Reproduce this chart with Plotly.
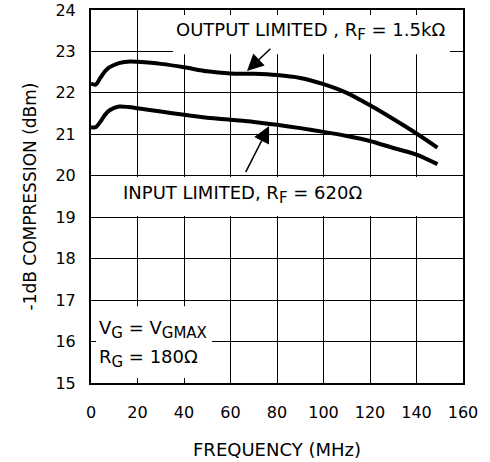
import plotly.graph_objects as go

# Frequency (MHz) and -1dB compression (dBm)
freq_out = [0, 2, 4, 6, 8, 12, 17, 20, 30, 40, 50, 60, 70, 80, 90, 100, 110, 120, 130, 140, 149]
comp_out = [22.22, 22.2, 22.36, 22.52, 22.62, 22.72, 22.76, 22.75, 22.70, 22.62, 22.52, 22.47, 22.46, 22.43, 22.36, 22.21, 22.0, 21.7, 21.37, 21.02, 20.68]

freq_in = [0, 2, 4, 6, 8, 12, 16, 20, 30, 40, 50, 60, 70, 80, 90, 100, 110, 120, 130, 140, 149]
comp_in = [21.17, 21.17, 21.3, 21.47, 21.58, 21.67, 21.66, 21.63, 21.55, 21.47, 21.4, 21.35, 21.3, 21.23, 21.15, 21.06, 20.96, 20.84, 20.67, 20.51, 20.28]

x_ticks = [0, 20, 40, 60, 80, 100, 120, 140, 160]
y_ticks = [15, 16, 17, 18, 19, 20, 21, 22, 23, 24]

FONT = "DejaVu Sans, Arial, sans-serif"


def sub(s):
    return "<sub><span style='font-size:15px'>" + s + "</span></sub>"


fig = go.Figure()
fig.add_trace(go.Scatter(x=freq_out, y=comp_out, mode="lines",
                         line=dict(color="black", width=4, shape="spline", smoothing=0.7),
                         showlegend=False, hoverinfo="skip"))
fig.add_trace(go.Scatter(x=freq_in, y=comp_in, mode="lines",
                         line=dict(color="black", width=4, shape="spline", smoothing=0.7),
                         showlegend=False, hoverinfo="skip"))

# white label boxes that hide the grid
for (x0, x1, y0, y1) in [(35.3, 154.4, 22.93, 23.88),
                         (0, 160, 19.03, 19.97),
                         (2.2, 52.0, 15.12, 16.85)]:
    fig.add_shape(type="rect", xref="x", yref="y", x0=x0, x1=x1, y0=y0, y1=y1,
                  fillcolor="white", line=dict(width=0), layer="between")

ann_font = dict(family=FONT, size=18, color="black")
fig.add_annotation(x=94.5, y=23.47, text="OUTPUT LIMITED , R" + sub("F") + " = 1.5kΩ",
                   showarrow=False, font=ann_font, xanchor="center", yanchor="middle")
fig.add_annotation(x=65, y=19.55, text="INPUT LIMITED, R" + sub("F") + " = 620Ω",
                   showarrow=False, font=ann_font, xanchor="center", yanchor="middle")
fig.add_annotation(x=2.5, y=16.3, text="V" + sub("G") + " = V" + sub("GMAX"),
                   showarrow=False, font=ann_font, xanchor="left", yanchor="middle")
fig.add_annotation(x=2.5, y=15.6, text="R" + sub("G") + " = 180Ω",
                   showarrow=False, font=ann_font, xanchor="left", yanchor="middle")

# arrows
fig.add_annotation(x=67.1, y=22.53, ax=77.8, ay=23.1, axref="x", ayref="y",
                   text="", showarrow=True, arrowhead=2, arrowsize=2.2, arrowwidth=1.5,
                   arrowcolor="black", standoff=0)
fig.add_annotation(x=76.6, y=21.2, ax=66.2, ay=20.05, axref="x", ayref="y",
                   text="", showarrow=True, arrowhead=2, arrowsize=2.2, arrowwidth=1.5,
                   arrowcolor="black", standoff=0)

fig.update_xaxes(range=[0, 160], tickvals=x_ticks, ticktext=[str(v) for v in x_ticks],
                 showgrid=True, gridcolor="black", gridwidth=1.3, zeroline=False,
                 showline=True, linecolor="black", linewidth=2, mirror=True,
                 ticks="", ticklabelstandoff=14, automargin=False,
                 tickfont=dict(family=FONT, size=16, color="black"),
                 title=dict(text="FREQUENCY (MHz)", font=dict(family=FONT, size=18, color="black"),
                            standoff=22))
fig.update_yaxes(range=[15, 24], tickvals=y_ticks, ticktext=[str(v) for v in y_ticks],
                 showgrid=True, gridcolor="black", gridwidth=1.3, zeroline=False,
                 showline=True, linecolor="black", linewidth=2, mirror=True,
                 ticks="", ticklabelstandoff=10, automargin=False,
                 tickfont=dict(family=FONT, size=16, color="black"),
                 title=dict(text="-1dB COMPRESSION (dBm)", font=dict(family=FONT, size=17, color="black"),
                            standoff=14))

fig.update_layout(width=490, height=462, margin=dict(l=91, r=27, t=10, b=79, autoexpand=False),
                  paper_bgcolor="white", plot_bgcolor="white", showlegend=False)

fig.write_html("out.html", config={"displayModeBar": False},
               post_script="document.body.style.margin='0';document.body.style.overflow='hidden';")
